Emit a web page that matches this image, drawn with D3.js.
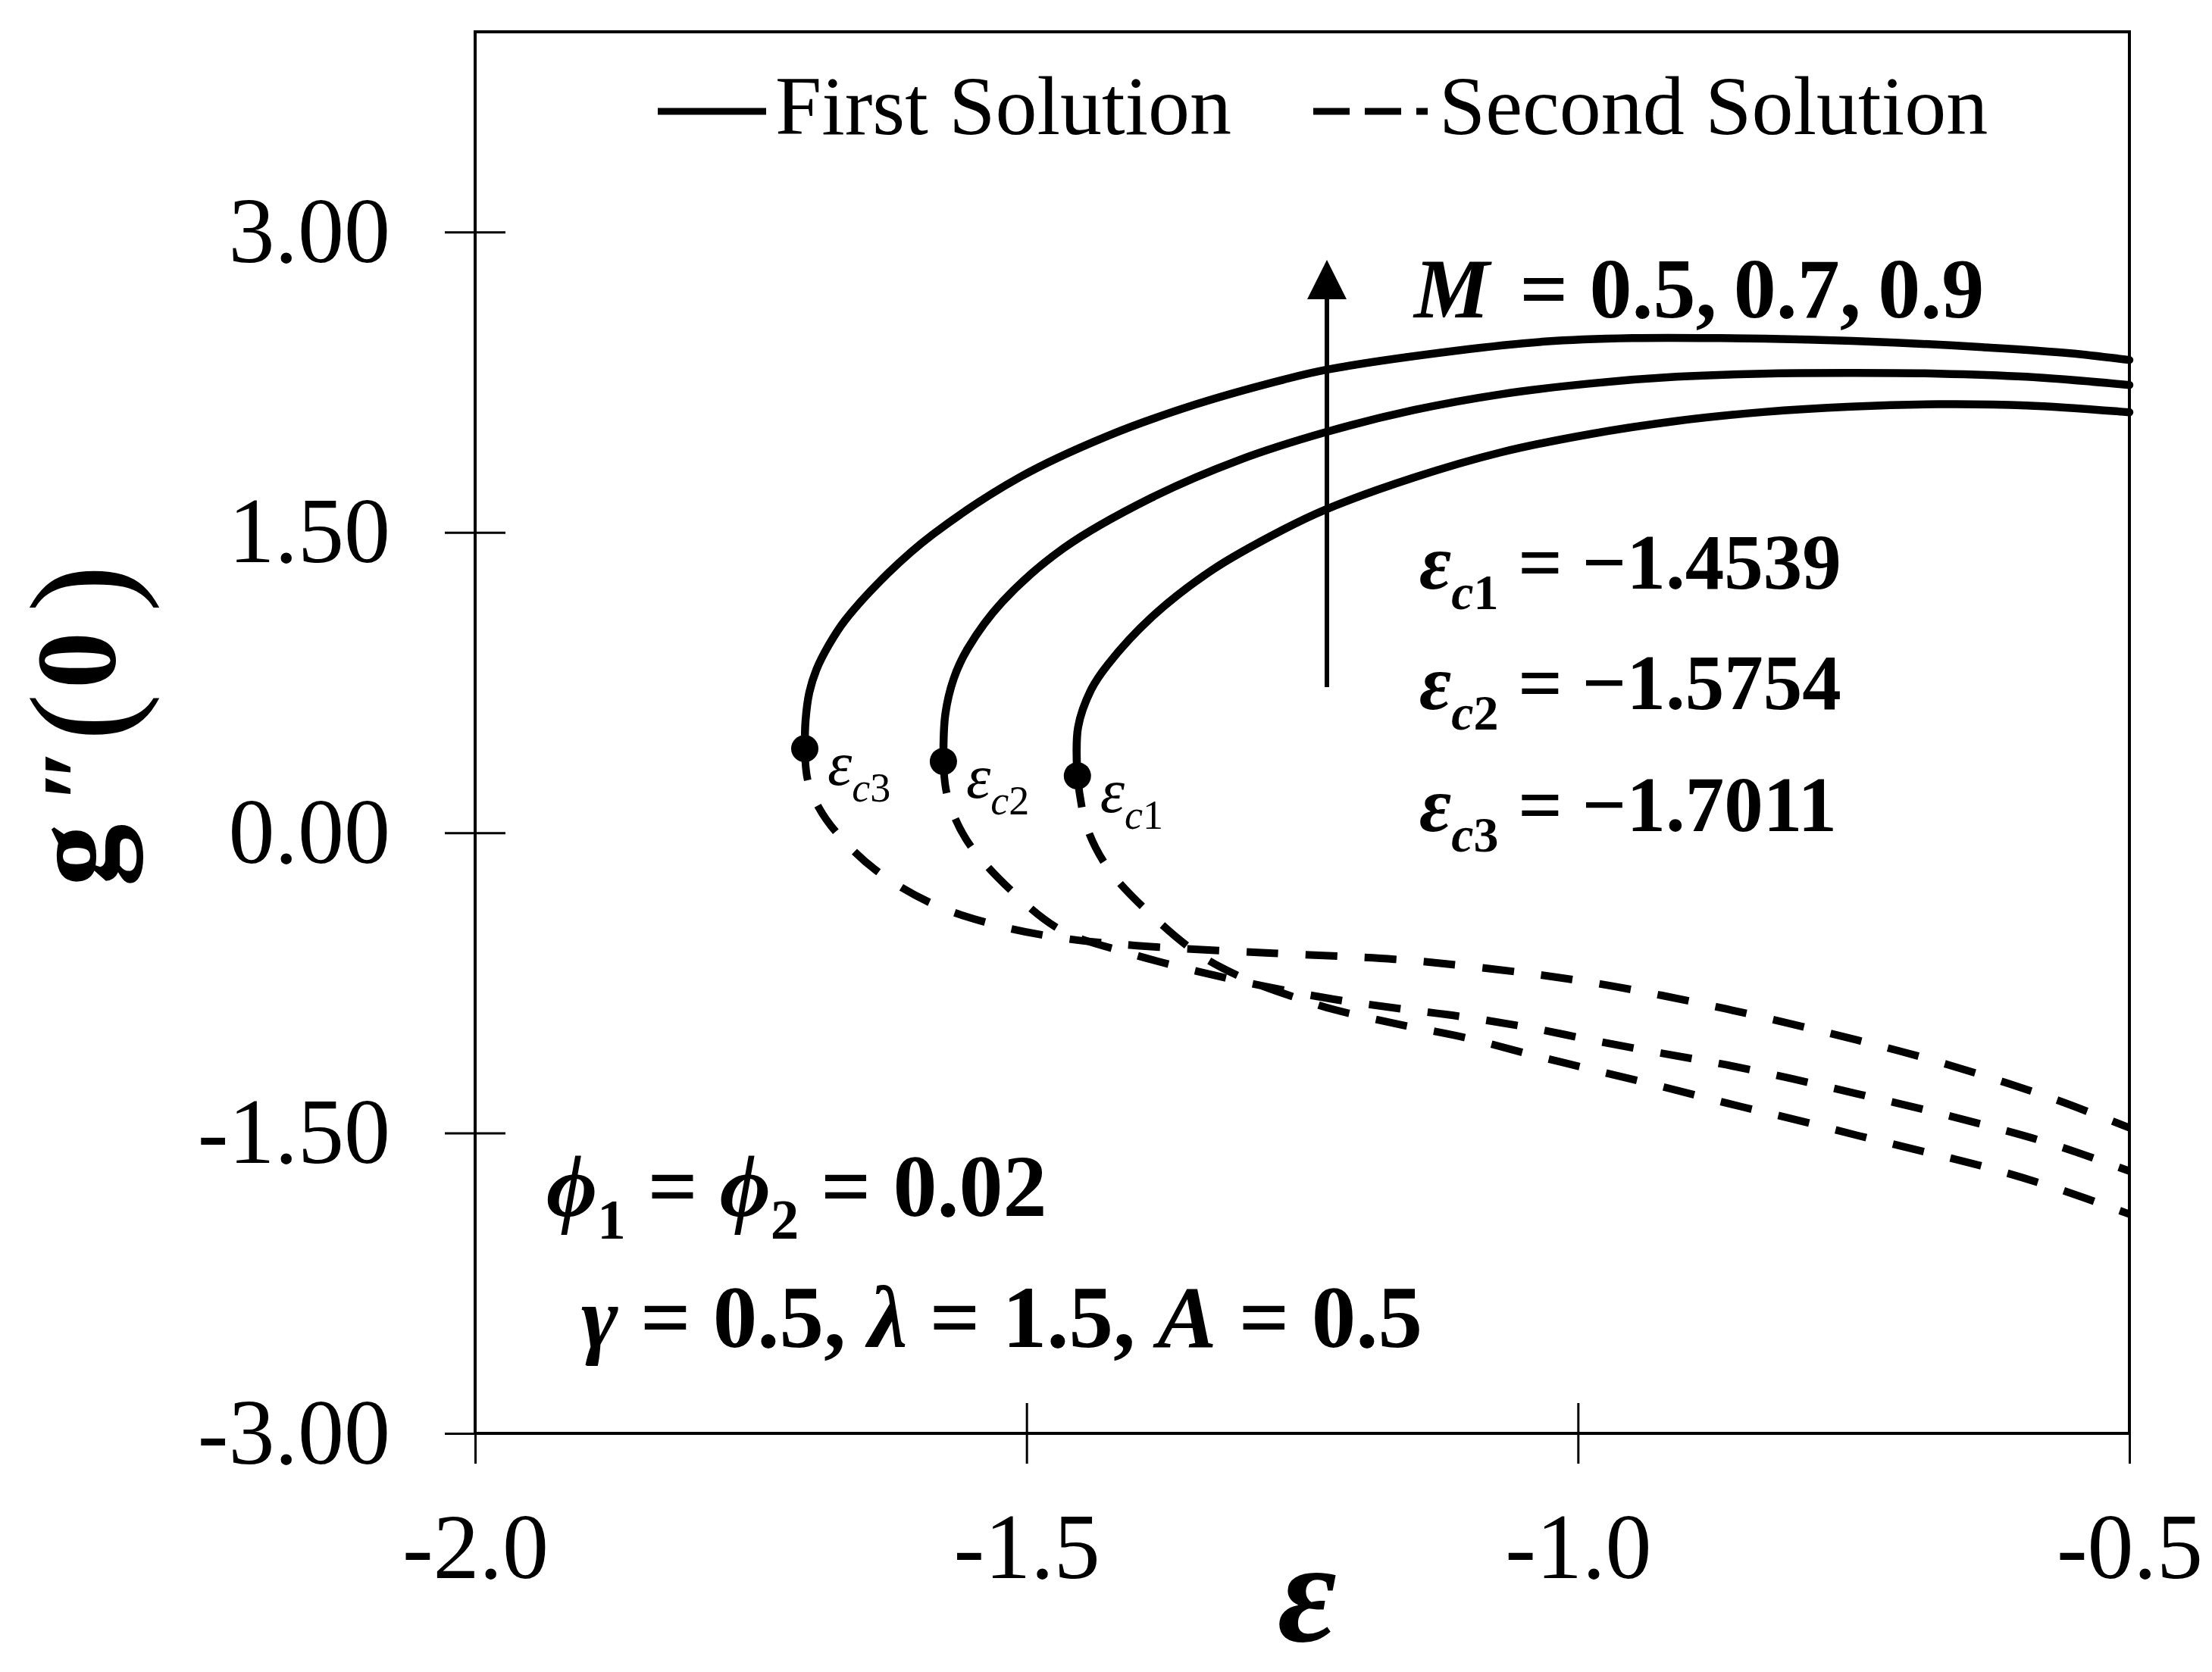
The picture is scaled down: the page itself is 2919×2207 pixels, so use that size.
<!DOCTYPE html>
<html>
<head>
<meta charset="utf-8">
<script src="https://cdn.jsdelivr.net/npm/d3@7"></script>
<style>
  html, body { margin: 0; padding: 0; background: #ffffff; }
  svg { display: block; }
  text { white-space: pre; }
</style>
</head>
<body>
<svg id="chart" width="2919" height="2207"></svg>
<script>
// ---------------- data ----------------
const xTicks = [-2.0, -1.5, -1.0, -0.5];
const xTickLabels = ["-2.0", "-1.5", "-1.0", "-0.5"];
const yTicks = [-3.0, -1.5, 0.0, 1.5, 3.0];
const yTickLabels = ["-3.00", "-1.50", "0.00", "1.50", "3.00"];

const mValues = [0.5, 0.7, 0.9];
const criticalEps = [-1.4539, -1.5754, -1.7011];
const criticalG = [0.284, 0.356, 0.420];
const criticalNames = ["c1", "c2", "c3"];

// first (upper) solution branches, from the critical point to eps = -0.5
const firstM05 = [[-1.4539,0.284],[-1.4533,0.526],[-1.4414,0.715],[-1.4263,0.840],[-1.3871,1.074],[-1.3314,1.313],[-1.2675,1.513],[-1.2284,1.615],[-1.1486,1.774],[-1.0696,1.900],[-0.9899,1.990],[-0.9109,2.056],[-0.8319,2.101],[-0.7522,2.128],[-0.6732,2.140],[-0.5934,2.134],[-0.5,2.100]];
const firstM07 = [[-1.5754,0.356],[-1.5737,0.590],[-1.5660,0.770],[-1.5534,0.919],[-1.5218,1.154],[-1.4661,1.422],[-1.3871,1.672],[-1.3074,1.861],[-1.2284,2.001],[-1.1486,2.111],[-1.0696,2.190],[-0.9899,2.243],[-0.9109,2.277],[-0.8319,2.293],[-0.7522,2.296],[-0.6732,2.293],[-0.5934,2.277],[-0.5,2.236]];
const firstM09 = [[-1.7011,0.420],[-1.7004,0.560],[-1.6970,0.700],[-1.6905,0.815],[-1.6790,0.940],[-1.6647,1.060],[-1.6248,1.300],[-1.5850,1.490],[-1.5060,1.776],[-1.4263,1.982],[-1.3472,2.138],[-1.2675,2.262],[-1.2284,2.312],[-1.1095,2.408],[-1.0298,2.453],[-0.9508,2.470],[-0.8710,2.470],[-0.7920,2.463],[-0.7123,2.448],[-0.6333,2.425],[-0.5543,2.395],[-0.5,2.361]];

// second (lower) solution branches, from the critical point to eps = -0.5
const secondM05 = [[-1.4539,0.284],[-1.4462,0.042],[-1.4256,-0.182],[-1.3836,-0.427],[-1.3410,-0.617],[-1.2971,-0.741],[-1.2490,-0.836],[-1.2201,-0.885],[-1.1624,-0.957],[-1.1012,-1.025],[-1.0415,-1.110],[-0.9837,-1.188],[-0.9246,-1.267],[-0.8649,-1.351],[-0.8051,-1.430],[-0.7460,-1.513],[-0.6862,-1.593],[-0.6271,-1.675],[-0.5673,-1.774],[-0.5,-1.905]];
const secondM07 = [[-1.5754,0.356],[-1.5719,0.185],[-1.5547,-0.034],[-1.5135,-0.291],[-1.4682,-0.488],[-1.4070,-0.602],[-1.3452,-0.692],[-1.2833,-0.768],[-1.2215,-0.832],[-1.1624,-0.878],[-1.1012,-0.922],[-1.0415,-0.976],[-0.9837,-1.040],[-0.9246,-1.101],[-0.8649,-1.160],[-0.8051,-1.230],[-0.7460,-1.305],[-0.6862,-1.383],[-0.6271,-1.466],[-0.5673,-1.560],[-0.5,-1.690]];
const secondM09 = [[-1.7011,0.420],[-1.6984,0.261],[-1.6887,0.129],[-1.6716,-0.004],[-1.6372,-0.185],[-1.5850,-0.356],[-1.5273,-0.462],[-1.4682,-0.526],[-1.4001,-0.564],[-1.2833,-0.600],[-1.1665,-0.632],[-1.1026,-0.665],[-1.0415,-0.705],[-0.9837,-0.752],[-0.9246,-0.812],[-0.8649,-0.881],[-0.8051,-0.957],[-0.7460,-1.037],[-0.6862,-1.124],[-0.6271,-1.222],[-0.5673,-1.332],[-0.5,-1.474]];

const firstSeries = [firstM05, firstM07, firstM09];
const secondSeries = [secondM05, secondM07, secondM09];

// ---------------- layout ----------------
const SERIF = "'Liberation Serif', 'Times New Roman', Times, serif";
const svg = d3.select("#chart");
svg.append("rect").attr("width", 2919).attr("height", 2207).attr("fill", "#fff");

const x = d3.scaleLinear().domain([-2, -0.5]).range([627, 2810]);
const y = d3.scaleLinear().domain([-3, 4]).range([1892, 42]);

// frame
svg.append("rect")
  .attr("x", x(-2)).attr("y", y(4))
  .attr("width", x(-0.5) - x(-2)).attr("height", y(-3) - y(4))
  .attr("fill", "none").attr("stroke", "#000").attr("stroke-width", 4);

function styleAxis(g) {
  g.select(".domain").remove();
  g.selectAll(".tick line").attr("stroke", "#000").attr("stroke-width", 3);
  g.selectAll(".tick text")
    .attr("fill", "#000")
    .attr("font-family", SERIF)
    .attr("font-size", 122);
}

// y axis: outer ticks with labels + inner ticks
svg.append("g").attr("transform", `translate(${x(-2)},0)`)
  .call(d3.axisLeft(y).tickValues(yTicks).tickFormat((d, i) => yTickLabels[i]).tickSize(40).tickPadding(72))
  .call(styleAxis);
svg.append("g").attr("transform", `translate(${x(-2)},0)`)
  .call(d3.axisRight(y).tickValues(yTicks).tickFormat("").tickSize(40))
  .call(styleAxis);

// x axis: outer ticks with labels + inner ticks
svg.append("g").attr("transform", `translate(0,${y(-3)})`)
  .call(d3.axisBottom(x).tickValues(xTicks).tickFormat((d, i) => xTickLabels[i]).tickSize(40).tickPadding(64))
  .call(styleAxis);
svg.append("g").attr("transform", `translate(0,${y(-3)})`)
  .call(d3.axisTop(x).tickValues(xTicks).tickFormat("").tickSize(40))
  .call(styleAxis);

// curves
const line = d3.line()
  .x(d => x(d[0])).y(d => y(d[1]))
  .curve(d3.curveCatmullRom.alpha(0.5));

const curves = svg.append("g");
secondSeries.forEach(s => {
  curves.append("path").attr("d", line(s))
    .attr("fill", "none").attr("stroke", "#000").attr("stroke-width", 10)
    .attr("stroke-dasharray", "42,36").attr("stroke-linejoin", "round");
});
firstSeries.forEach(s => {
  curves.append("path").attr("d", line(s))
    .attr("fill", "none").attr("stroke", "#000").attr("stroke-width", 10.5)
    .attr("stroke-linejoin", "round").attr("stroke-linecap", "round");
});

// critical points
criticalEps.forEach((e, i) => {
  svg.append("circle").attr("cx", x(e)).attr("cy", y(criticalG[i])).attr("r", 18).attr("fill", "#000");
  const t = svg.append("text")
    .attr("x", x(e) + 30).attr("y", y(criticalG[i]) + 48)
    .attr("font-family", SERIF).attr("font-size", 82).attr("font-style", "italic");
  t.append("tspan").text("ε");
  t.append("tspan").attr("font-size", 54).attr("dy", 22).text(criticalNames[i][0]);
  t.append("tspan").attr("font-size", 54).attr("font-style", "normal").text(criticalNames[i][1]);
});

// legend
svg.append("line").attr("x1", 868).attr("x2", 1011).attr("y1", 147).attr("y2", 147)
  .attr("stroke", "#000").attr("stroke-width", 9);
svg.append("text").attr("x", 1023).attr("y", 177)
  .attr("font-family", SERIF).attr("font-size", 110).text("First Solution");
svg.append("line").attr("x1", 1733).attr("x2", 1884).attr("y1", 147).attr("y2", 147)
  .attr("stroke", "#000").attr("stroke-width", 9).attr("stroke-dasharray", "48,20");
svg.append("text").attr("x", 1899).attr("y", 177)
  .attr("font-family", SERIF).attr("font-size", 110).text("Second Solution");

// arrow (M increasing)
svg.append("line").attr("x1", 1751).attr("x2", 1751).attr("y1", 907).attr("y2", 388)
  .attr("stroke", "#000").attr("stroke-width", 6);
svg.append("path").attr("d", "M1725,395 L1777,395 L1751,343 Z").attr("fill", "#000");

// M label
const mt = svg.append("text").attr("x", 1866).attr("y", 419)
  .attr("font-family", SERIF).attr("font-size", 112).attr("font-weight", "bold");
mt.append("tspan").attr("font-style", "italic").text("M");
mt.append("tspan").attr("dx", 12).text(" = " + mValues.map(v => v.toFixed(1)).join(",\u2009"));

// critical value labels
const cRowsY = [777, 936, 1097];
criticalEps.forEach((e, i) => {
  const t = svg.append("text").attr("x", 1873).attr("y", cRowsY[i])
    .attr("font-family", SERIF).attr("font-size", 103).attr("font-weight", "bold");
  t.append("tspan").attr("font-style", "italic").text("ε");
  t.append("tspan").attr("font-style", "italic").attr("font-size", 66).attr("dy", 27).text(criticalNames[i][0]);
  t.append("tspan").attr("font-size", 66).text(criticalNames[i][1]);
  t.append("tspan").attr("dy", -27).text(" = \u2212" + Math.abs(e).toFixed(4));
});

// parameter labels
const p1 = svg.append("text").attr("x", 721).attr("y", 1605)
  .attr("font-family", SERIF).attr("font-size", 116).attr("font-weight", "bold");
p1.append("tspan").attr("font-style", "italic").text("\u03D5");
p1.append("tspan").attr("font-size", 75).attr("dy", 30).text("1");
p1.append("tspan").attr("dy", -30).text(" = ");
p1.append("tspan").attr("font-style", "italic").text("\u03D5");
p1.append("tspan").attr("font-size", 75).attr("dy", 30).text("2");
p1.append("tspan").attr("dy", -30).text(" = 0.02");

const p2 = svg.append("text").attr("x", 767).attr("y", 1778)
  .attr("font-family", SERIF).attr("font-size", 117).attr("font-weight", "bold");
p2.append("tspan").attr("font-style", "italic").text("γ");
p2.append("tspan").text(" = 0.5, ");
p2.append("tspan").attr("font-style", "italic").text("λ");
p2.append("tspan").text(" = 1.5, ");
p2.append("tspan").attr("font-style", "italic").text("A");
p2.append("tspan").text(" = 0.5");

// x axis title
svg.append("text").attr("x", 1725).attr("y", 2166).attr("text-anchor", "middle")
  .attr("font-family", SERIF).attr("font-size", 190).attr("font-weight", "bold").attr("font-style", "italic")
  .text("ε");

// y axis title g''(0), rotated
const yt = svg.append("g").attr("transform", "translate(152,0) rotate(-90)")
  .attr("font-family", SERIF);
yt.append("text").attr("x", -1170).attr("y", 0).attr("font-size", 165).attr("font-weight", "bold").text("g");
yt.append("text").attr("x", -1062).attr("y", 0).attr("font-size", 140).attr("font-weight", "bold").text("\u2033");
yt.append("text").attr("x", -978).attr("y", 18).attr("font-size", 188).text("(");
yt.append("text").attr("x", -909).attr("y", 0).attr("font-size", 150).attr("font-weight", "bold").text("0");
yt.append("text").attr("x", -808).attr("y", 18).attr("font-size", 188).text(")");
</script>
</body>
</html>
